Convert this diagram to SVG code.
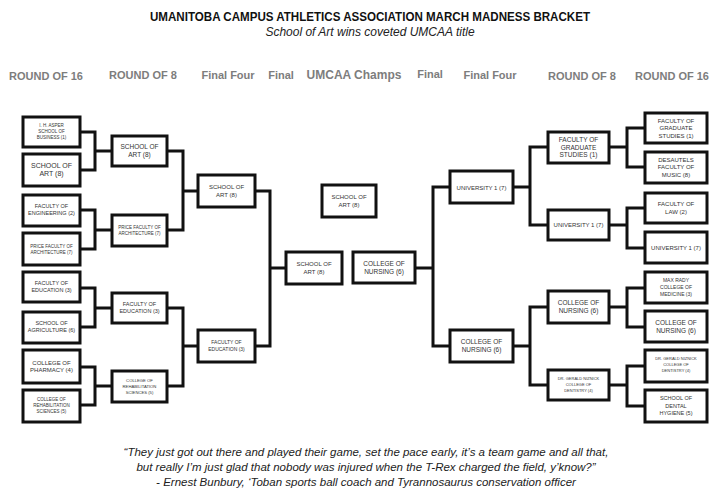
<svg xmlns="http://www.w3.org/2000/svg" width="720" height="493" viewBox="0 0 720 493">
<style>
  .bg{fill:#ffffff}
  .box{fill:#ffffff;stroke:#111111;stroke-width:3;}
  .lbl{font-family:"Liberation Sans",Arial,sans-serif;fill:#333333;text-anchor:middle}
  .hdr{font-family:"Liberation Sans",Arial,sans-serif;font-weight:bold;fill:#7d7d7d;text-anchor:middle;font-size:11px}
  .conn{fill:none;stroke:#111111;stroke-width:3;stroke-linejoin:miter;stroke-linecap:square}
  .title{font-family:"Liberation Sans",Arial,sans-serif;font-weight:bold;fill:#111111;text-anchor:middle;font-size:12.5px}
  .sub{font-family:"Liberation Sans",Arial,sans-serif;font-style:italic;fill:#222222;text-anchor:middle;font-size:12px}
  .quote{font-family:"Liberation Sans",Arial,sans-serif;font-style:italic;fill:#222222;text-anchor:middle;font-size:11.5px}
</style>
<rect class="bg" x="0" y="0" width="720" height="493"/>

<g id="header">
  <text class="title" x="370" y="21" textLength="440" lengthAdjust="spacingAndGlyphs">UMANITOBA CAMPUS ATHLETICS ASSOCIATION MARCH MADNESS BRACKET</text>
  <text class="sub" x="370" y="36">School of Art wins coveted UMCAA title</text>
</g>

<g id="round-headers">
  <text class="hdr" x="46" y="80">ROUND OF 16</text>
  <text class="hdr" x="143" y="79">ROUND OF  8</text>
  <text class="hdr" x="228" y="79">Final Four</text>
  <text class="hdr" x="281" y="79">Final</text>
  <text class="hdr" x="354" y="79" style="font-size:12px">UMCAA Champs</text>
  <text class="hdr" x="430" y="78">Final</text>
  <text class="hdr" x="490" y="79">Final Four</text>
  <text class="hdr" x="582" y="80">ROUND OF  8</text>
  <text class="hdr" x="672" y="80">ROUND OF 16</text>
</g>

<g id="connectors">
  <path class="conn" d="M80,132 H95 V170 H80 M95,151 H112"/>
  <path class="conn" d="M80,210 H95 V249 H80 M95,230 H112"/>
  <path class="conn" d="M80,288 H95 V327 H80 M95,308 H112"/>
  <path class="conn" d="M80,367 H95 V405 H80 M95,386 H112"/>
  <path class="conn" d="M167,151 H183 V230 H167 M183,191 H198"/>
  <path class="conn" d="M167,308 H183 V386 H167 M183,346 H198"/>
  <path class="conn" d="M255,191 H270 V346 H255 M270,268 H286"/>
  <path class="conn" d="M415,268 H433 M450,187 H433 V346 H450"/>
  <path class="conn" d="M513,187 H530 M548,147 H530 V225 H548"/>
  <path class="conn" d="M513,346 H530 M548,307 H530 V385 H548"/>
  <path class="conn" d="M609,147 H627 M645,128 H627 V167 H645"/>
  <path class="conn" d="M609,225 H627 M645,208 H627 V248 H645"/>
  <path class="conn" d="M609,307 H627 M645,288 H627 V327 H645"/>
  <path class="conn" d="M609,385 H627 M645,366 H627 V406 H645"/>
</g>

<!-- Left Round of 16 -->
<g id="l16-1"><rect class="box" x="23" y="117" width="57" height="30"/>
  <text class="lbl" x="51.5" y="127" font-size="4.5"><tspan x="51.5">I. H. ASPER</tspan><tspan x="51.5" dy="6">SCHOOL OF</tspan><tspan x="51.5" dy="6">BUSINESS (1)</tspan></text></g>
<g id="l16-2"><rect class="box" x="23" y="154" width="57" height="32"/>
  <text class="lbl" x="51.5" y="168" font-size="7"><tspan x="51.5">SCHOOL OF</tspan><tspan x="51.5" dy="8">ART (8)</tspan></text></g>
<g id="l16-3"><rect class="box" x="23" y="195" width="57" height="31"/>
  <text class="lbl" x="51.5" y="208" font-size="5.5"><tspan x="51.5">FACULTY OF</tspan><tspan x="51.5" dy="7">ENGINEERING (2)</tspan></text></g>
<g id="l16-4"><rect class="box" x="23" y="233" width="57" height="32"/>
  <text class="lbl" x="51.5" y="248" font-size="4.5"><tspan x="51.5">PRICE FACULTY OF</tspan><tspan x="51.5" dy="6">ARCHITECTURE (7)</tspan></text></g>
<g id="l16-5"><rect class="box" x="23" y="272" width="57" height="30"/>
  <text class="lbl" x="51.5" y="285" font-size="5.5"><tspan x="51.5">FACULTY OF</tspan><tspan x="51.5" dy="7">EDUCATION (3)</tspan></text></g>
<g id="l16-6"><rect class="box" x="23" y="312" width="57" height="31"/>
  <text class="lbl" x="51.5" y="325" font-size="5.5"><tspan x="51.5">SCHOOL OF</tspan><tspan x="51.5" dy="7">AGRICULTURE (6)</tspan></text></g>
<g id="l16-7"><rect class="box" x="23" y="350" width="57" height="33"/>
  <text class="lbl" x="51.5" y="365" font-size="6"><tspan x="51.5">COLLEGE OF</tspan><tspan x="51.5" dy="7">PHARMACY (4)</tspan></text></g>
<g id="l16-8"><rect class="box" x="23" y="390" width="57" height="32"/>
  <text class="lbl" x="51.5" y="401" font-size="4.5"><tspan x="51.5">COLLEGE OF</tspan><tspan x="51.5" dy="6">REHABILITATION</tspan><tspan x="51.5" dy="6">SCIENCES (5)</tspan></text></g>

<!-- Left Round of 8 -->
<g id="l8-1"><rect class="box" x="112" y="136" width="55" height="30"/>
  <text class="lbl" x="139.5" y="149" font-size="6.5"><tspan x="139.5">SCHOOL OF</tspan><tspan x="139.5" dy="7.5">ART (8)</tspan></text></g>
<g id="l8-2"><rect class="box" x="112" y="215" width="55" height="31"/>
  <text class="lbl" x="139.5" y="229" font-size="4.5"><tspan x="139.5">PRICE FACULTY OF</tspan><tspan x="139.5" dy="6">ARCHITECTURE (7)</tspan></text></g>
<g id="l8-3"><rect class="box" x="112" y="293" width="55" height="30"/>
  <text class="lbl" x="139.5" y="306" font-size="5.5"><tspan x="139.5">FACULTY OF</tspan><tspan x="139.5" dy="7">EDUCATION (3)</tspan></text></g>
<g id="l8-4"><rect class="box" x="112" y="371" width="55" height="31"/>
  <text class="lbl" x="139.5" y="382" font-size="4.2"><tspan x="139.5">COLLEGE OF</tspan><tspan x="139.5" dy="6">REHABILITATION</tspan><tspan x="139.5" dy="6">SCIENCES (5)</tspan></text></g>

<!-- Left Final Four -->
<g id="lff-1"><rect class="box" x="198" y="175" width="57" height="32"/>
  <text class="lbl" x="226.5" y="189" font-size="6"><tspan x="226.5">SCHOOL OF</tspan><tspan x="226.5" dy="7.5">ART (8)</tspan></text></g>
<g id="lff-2"><rect class="box" x="198" y="330" width="57" height="32"/>
  <text class="lbl" x="226.5" y="344" font-size="5"><tspan x="226.5">FACULTY OF</tspan><tspan x="226.5" dy="7">EDUCATION (3)</tspan></text></g>

<!-- Finals and Champ -->
<g id="final-left"><rect class="box" x="286" y="252" width="56" height="32"/>
  <text class="lbl" x="314" y="266" font-size="6"><tspan x="314">SCHOOL OF</tspan><tspan x="314" dy="8">ART (8)</tspan></text></g>
<g id="champ"><rect class="box" x="322" y="185" width="54" height="32"/>
  <text class="lbl" x="349" y="199" font-size="6"><tspan x="349">SCHOOL OF</tspan><tspan x="349" dy="8">ART (8)</tspan></text></g>
<g id="final-right"><rect class="box" x="353" y="252" width="62" height="31"/>
  <text class="lbl" x="384" y="266" font-size="6.5"><tspan x="384">COLLEGE OF</tspan><tspan x="384" dy="8">NURSING (6)</tspan></text></g>

<!-- Right Final Four -->
<g id="rff-1"><rect class="box" x="450" y="171" width="63" height="32"/>
  <text class="lbl" x="481.5" y="189.5" font-size="6">UNIVERSITY 1 (7)</text></g>
<g id="rff-2"><rect class="box" x="450" y="330" width="63" height="32"/>
  <text class="lbl" x="481.5" y="344" font-size="6.5"><tspan x="481.5">COLLEGE OF</tspan><tspan x="481.5" dy="8">NURSING (6)</tspan></text></g>

<!-- Right Round of 8 -->
<g id="r8-1"><rect class="box" x="548" y="132" width="61" height="31"/>
  <text class="lbl" x="578.5" y="142" font-size="6.5"><tspan x="578.5">FACULTY OF</tspan><tspan x="578.5" dy="7.5">GRADUATE</tspan><tspan x="578.5" dy="7.5">STUDIES (1)</tspan></text></g>
<g id="r8-2"><rect class="box" x="548" y="210" width="61" height="30"/>
  <text class="lbl" x="578.5" y="227" font-size="6">UNIVERSITY 1 (7)</text></g>
<g id="r8-3"><rect class="box" x="548" y="291" width="61" height="32"/>
  <text class="lbl" x="578.5" y="305" font-size="6.5"><tspan x="578.5">COLLEGE OF</tspan><tspan x="578.5" dy="8">NURSING (6)</tspan></text></g>
<g id="r8-4"><rect class="box" x="548" y="370" width="61" height="30"/>
  <text class="lbl" x="578.5" y="380" font-size="4"><tspan x="578.5">DR. GERALD NIZNICK</tspan><tspan x="578.5" dy="6">COLLEGE OF</tspan><tspan x="578.5" dy="6">DENTISTRY (4)</tspan></text></g>

<!-- Right Round of 16 -->
<g id="r16-1"><rect class="box" x="645" y="113" width="62" height="30"/>
  <text class="lbl" x="676" y="122.5" font-size="6"><tspan x="676">FACULTY OF</tspan><tspan x="676" dy="7.5">GRADUATE</tspan><tspan x="676" dy="7.5">STUDIES (1)</tspan></text></g>
<g id="r16-2"><rect class="box" x="645" y="152" width="62" height="31"/>
  <text class="lbl" x="676" y="161.5" font-size="6"><tspan x="676">DESAUTELS</tspan><tspan x="676" dy="7.5">FACULTY OF</tspan><tspan x="676" dy="7.5">MUSIC (8)</tspan></text></g>
<g id="r16-3"><rect class="box" x="645" y="193" width="62" height="30"/>
  <text class="lbl" x="676" y="206" font-size="6"><tspan x="676">FACULTY OF</tspan><tspan x="676" dy="8">LAW (2)</tspan></text></g>
<g id="r16-4"><rect class="box" x="645" y="232" width="62" height="31"/>
  <text class="lbl" x="676" y="249.5" font-size="6">UNIVERSITY 1 (7)</text></g>
<g id="r16-5"><rect class="box" x="645" y="272" width="62" height="31"/>
  <text class="lbl" x="676" y="281.5" font-size="5"><tspan x="676">MAX RADY</tspan><tspan x="676" dy="7">COLLEGE OF</tspan><tspan x="676" dy="7">MEDICINE (3)</tspan></text></g>
<g id="r16-6"><rect class="box" x="645" y="311" width="62" height="31"/>
  <text class="lbl" x="676" y="325" font-size="6.5"><tspan x="676">COLLEGE OF</tspan><tspan x="676" dy="8">NURSING (6)</tspan></text></g>
<g id="r16-7"><rect class="box" x="645" y="350" width="62" height="32"/>
  <text class="lbl" x="676" y="360" font-size="4"><tspan x="676">DR. GERALD NIZNICK</tspan><tspan x="676" dy="6">COLLEGE OF</tspan><tspan x="676" dy="6">DENTISTRY (4)</tspan></text></g>
<g id="r16-8"><rect class="box" x="645" y="390" width="62" height="32"/>
  <text class="lbl" x="676" y="400" font-size="5.5"><tspan x="676">SCHOOL OF</tspan><tspan x="676" dy="7.5">DENTAL</tspan><tspan x="676" dy="7.5">HYGIENE (5)</tspan></text></g>

<g id="quote">
  <text class="quote" x="366" y="456">“They just got out there and played their game, set the pace early, it’s a team game and all that,</text>
  <text class="quote" x="366" y="471">but really I’m just glad that nobody was injured when the T-Rex charged the field, y’know?”</text>
  <text class="quote" x="366" y="486">- Ernest Bunbury, ‘Toban sports ball coach and Tyrannosaurus conservation officer</text>
</g>
</svg>
